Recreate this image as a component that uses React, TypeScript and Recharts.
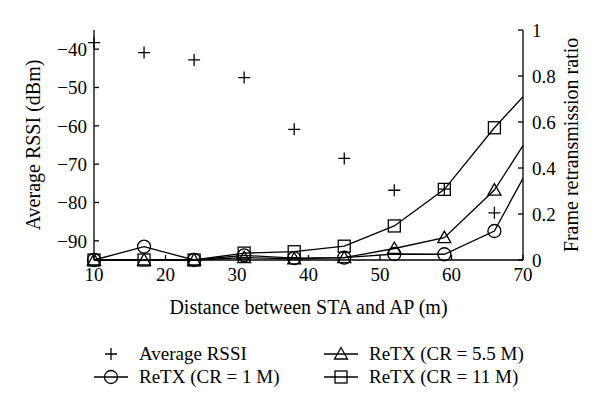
import React from 'react';
import { ComposedChart, Line, XAxis, YAxis } from 'recharts';

// distance (m) of each measurement
const distances = [10, 17, 24, 31, 38, 45, 52, 59, 66];
// left axis, dBm
const avgRssi = [-38.3, -40.9, -42.8, -47.4, -60.9, -68.5, -76.8, -76.5, -82.7];
// right axis, retransmission ratio
const retx1M = [0, 0.058, 0, 0.02, 0.008, 0.01, 0.026, 0.025, 0.126];
const retx55M = [0, 0, 0, 0.01, 0.005, 0.01, 0.05, 0.097, 0.304];
const retx11M = [0, 0, 0, 0.03, 0.036, 0.06, 0.148, 0.307, 0.575];

// the ReTX curves leave the frame at x = 70, these are the values read there
const edgeDistance = 70;
const edgeRetx1M = 0.355;
const edgeRetx55M = 0.497;
const edgeRetx11M = 0.71;

const xTicks = [10, 20, 30, 40, 50, 60, 70];
const topTicks = [20, 30, 40, 50, 60];
const rssiTicks = [-90, -80, -70, -60, -50, -40];
const ratioTicks = [0, 0.2, 0.4, 0.6, 0.8, 1];

const legendLabels = ['Average RSSI', 'ReTX (CR = 1 M)', 'ReTX (CR = 5.5 M)', 'ReTX (CR = 11 M)'];

const data = [
  ...distances.map((d, i) => ({
    d,
    rssi: avgRssi[i],
    r1: retx1M[i],
    r55: retx55M[i],
    r11: retx11M[i],
    edge: false,
  })),
  { d: edgeDistance, rssi: null, r1: edgeRetx1M, r55: edgeRetx55M, r11: edgeRetx11M, edge: true },
];

const FONT = '"Liberation Serif", "DejaVu Serif", serif';
const INK = '#000';

type Kind = 'plus' | 'circle' | 'triangle' | 'square';

const Marker = ({ kind, cx, cy }: { kind: Kind; cx: number; cy: number }) => {
  const s = 6;
  if (kind === 'plus')
    return (
      <path d={`M${cx - s},${cy}H${cx + s}M${cx},${cy - s}V${cy + s}`} stroke={INK} strokeWidth={1.3} fill="none" />
    );
  if (kind === 'circle') return <circle cx={cx} cy={cy} r={6.5} stroke={INK} strokeWidth={1.3} fill="none" />;
  if (kind === 'triangle')
    return (
      <path
        d={`M${cx},${cy - 6.5}L${cx + 6.5},${cy + 5}L${cx - 6.5},${cy + 5}Z`}
        stroke={INK}
        strokeWidth={1.3}
        fill="none"
      />
    );
  return <rect x={cx - s} y={cy - s} width={2 * s} height={2 * s} stroke={INK} strokeWidth={1.3} fill="none" />;
};

const makeDot = (kind: Kind) => (props: any) => {
  const { cx, cy, payload, index } = props;
  const key = `${kind}-${index}`;
  if (payload.edge || cx == null || cy == null || Number.isNaN(cy)) return <g key={key} />;
  return <Marker key={key} kind={kind} cx={cx} cy={cy} />;
};

const tickStyle = { fill: INK, fontSize: 19, fontFamily: FONT };
const lineStyle = { stroke: INK, strokeWidth: 1.3 };

const LegendIcon = ({ kind, line }: { kind: Kind; line: boolean }) => (
  <svg width={34} height={20} style={{ overflow: 'visible' }}>
    {line && <line x1={0} y1={10} x2={34} y2={10} stroke={INK} strokeWidth={1.3} />}
    <Marker kind={kind} cx={17} cy={10} />
  </svg>
);

const legendItems: { kind: Kind; line: boolean; left: number; top: number }[] = [
  { kind: 'plus', line: false, left: 94, top: 342 },
  { kind: 'circle', line: true, left: 94, top: 365 },
  { kind: 'triangle', line: true, left: 324, top: 342 },
  { kind: 'square', line: true, left: 324, top: 365 },
];

export default function App() {
  return (
    <div style={{ position: 'absolute', left: 0, top: 0, width: 600, height: 411, background: '#fff', fontFamily: FONT }}>
      <ComposedChart width={600} height={411} data={data} margin={{ top: 30, right: 0, bottom: 91, left: 0 }}>
        <XAxis
          dataKey="d"
          type="number"
          domain={[10, 70]}
          ticks={xTicks}
          interval={0}
          height={60}
          tick={tickStyle}
          tickSize={-5}
          tickMargin={13}
          axisLine={lineStyle}
          tickLine={lineStyle}
          label={{
            value: 'Distance between STA and AP (m)',
            position: 'insideBottom',
            offset: 6,
            fill: INK,
            fontSize: 20,
            fontFamily: FONT,
          }}
        />
        <XAxis
          xAxisId="top"
          orientation="top"
          dataKey="d"
          type="number"
          domain={[10, 70]}
          ticks={topTicks}
          interval={0}
          height={0}
          tickSize={-5}
          tickFormatter={() => ''}
          axisLine={lineStyle}
          tickLine={lineStyle}
        />
        <YAxis
          yAxisId="left"
          type="number"
          domain={[-95, -35]}
          ticks={rssiTicks}
          interval={0}
          width={94}
          tick={tickStyle}
          tickSize={-5}
          tickMargin={12}
          tickFormatter={(v: number) => `\u2212${Math.abs(v)}`}
          axisLine={lineStyle}
          tickLine={lineStyle}
          label={{
            value: 'Average RSSI (dBm)',
            angle: -90,
            position: 'insideLeft',
            offset: 33,
            fill: INK,
            fontSize: 20,
            fontFamily: FONT,
            style: { textAnchor: 'middle' },
          }}
        />
        <YAxis
          yAxisId="right"
          orientation="right"
          type="number"
          domain={[0, 1]}
          ticks={ratioTicks}
          interval={0}
          width={77}
          tick={tickStyle}
          tickSize={-5}
          tickMargin={14}
          tickFormatter={(v: number) => (v === 0 ? '0' : v === 1 ? '1' : v.toFixed(1))}
          axisLine={lineStyle}
          tickLine={lineStyle}
          label={{
            value: 'Frame retransmission ratio',
            angle: -90,
            position: 'insideRight',
            offset: 29,
            fill: INK,
            fontSize: 20,
            fontFamily: FONT,
            style: { textAnchor: 'middle' },
          }}
        />
        <Line
          yAxisId="left"
          dataKey="rssi"
          type="linear"
          stroke="none"
          dot={makeDot('plus')}
          activeDot={false}
          isAnimationActive={false}
        />
        <Line
          yAxisId="right"
          dataKey="r1"
          type="linear"
          stroke={INK}
          strokeWidth={1.3}
          dot={makeDot('circle')}
          activeDot={false}
          isAnimationActive={false}
        />
        <Line
          yAxisId="right"
          dataKey="r55"
          type="linear"
          stroke={INK}
          strokeWidth={1.3}
          dot={makeDot('triangle')}
          activeDot={false}
          isAnimationActive={false}
        />
        <Line
          yAxisId="right"
          dataKey="r11"
          type="linear"
          stroke={INK}
          strokeWidth={1.3}
          dot={makeDot('square')}
          activeDot={false}
          isAnimationActive={false}
        />
      </ComposedChart>
      {legendItems.map((it, i) => (
        <div
          key={it.kind}
          style={{
            position: 'absolute',
            left: it.left,
            top: it.top,
            height: 24,
            display: 'flex',
            alignItems: 'center',
            fontSize: 19,
            whiteSpace: 'nowrap',
            color: INK,
          }}
        >
          <LegendIcon kind={it.kind} line={it.line} />
          <span style={{ marginLeft: 11 }}>{legendLabels[i]}</span>
        </div>
      ))}
    </div>
  );
}
